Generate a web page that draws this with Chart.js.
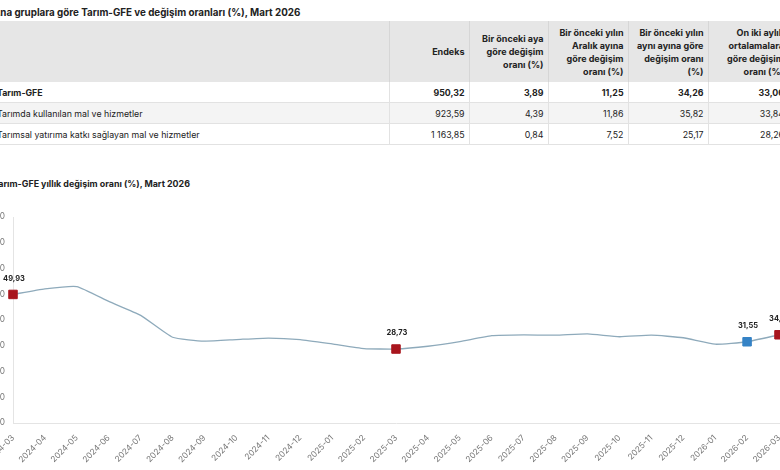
<!DOCTYPE html>
<html>
<head>
<meta charset="utf-8">
<script src="https://cdn.jsdelivr.net/npm/chart.js@4"></script>
<style>
  html, body { margin: 0; padding: 0; background: #fff; }
  body { width: 780px; height: 470px; overflow: hidden; position: relative; font-family: Inter, "Noto Sans", sans-serif; color: #222; }
  .wrap { position: absolute; left: -8px; top: 0; width: 830px; height: 470px; }
  .title { position: absolute; left: 1px; font-size: 9.8px; font-weight: 700; margin: 0; white-space: nowrap; }
  #t1 { top: 7px; }
  #t2 { top: 178px; left: 1px; font-size: 8.9px; }
  table { position: absolute; top: 21px; left: 0; border-collapse: collapse; table-layout: fixed; font-size: 8.8px; }
  th { background: #e6e6e6; font-weight: 700; font-size: 9px; text-align: right; vertical-align: middle; height: 61px; padding: 0 4px 0 4px; line-height: 13px; border-left: 1px solid #d6d6d6; }
  th:first-child { border-left: none; }
  td { text-align: right; height: 20px; padding: 0 4px; border-left: 1px solid #e2e2e2; border-bottom: 1px solid #e2e2e2; }
  td:first-child { text-align: left; padding-left: 5px; border-left: none; }
  tr.bold td { font-weight: 700; }
  tr.alt td { background: #f4f4f4; }
  .chartbox { position: absolute; left: -9px; top: 200px; width: 816px; height: 270px; }
</style>
</head>
<body>
<div class="wrap">
  <div class="title" id="t1">Ana gruplara göre Tarım-GFE ve değişim oranları (%), Mart 2026</div>
  <table id="tbl"></table>
  <div class="title" id="t2">Tarım-GFE yıllık değişim oranı (%), Mart 2026</div>
  <div class="chartbox"><canvas id="chart"></canvas></div>
</div>
<script>
// table data
const tableHeaders = ["", "Endeks", "Bir önceki aya<br>göre değişim<br>oranı (%)", "Bir önceki yılın<br>Aralık ayına<br>göre değişim<br>oranı (%)", "Bir önceki yılın<br>aynı ayına göre<br>değişim oranı<br>(%)", "On iki aylık<br>ortalamalara<br>göre değişim<br>oranı (%)"];
const rowLabels = ["Tarım-GFE", "Tarımda kullanılan mal ve hizmetler", "Tarımsal yatırıma katkı sağlayan mal ve hizmetler"];
const endeks = ["950,32", "923,59", "1 163,85"];
const monthly = ["3,89", "4,39", "0,84"];
const sinceDec = ["11,25", "11,86", "7,52"];
const yearly = ["34,26", "35,82", "25,17"];
const avg12 = ["33,06", "33,84", "28,26"];

// chart data
const months = ["2024-03", "2024-04", "2024-05", "2024-06", "2024-07", "2024-08", "2024-09", "2024-10", "2024-11", "2024-12",
  "2025-01", "2025-02", "2025-03", "2025-04", "2025-05", "2025-06", "2025-07", "2025-08", "2025-09", "2025-10", "2025-11", "2025-12",
  "2026-01", "2026-02", "2026-03"];
const rates = [49.93, 52.1, 53.0, 47.2, 41.8, 33.3, 31.8, 32.4, 33.0, 32.4,
  30.7, 28.9, 28.73, 29.8, 31.6, 33.9, 34.2, 34.1, 34.6, 33.5, 34.1, 33.1,
  30.6, 31.55, 34.26];
const redMonths = ["2024-03", "2025-03", "2026-03"];
const blueMonths = ["2026-02"];

// build the table
const tbl = document.getElementById("tbl");
const widths = [397, 80, 79, 80, 80, 80];
let html = "<colgroup>" + widths.map(w => `<col style="width:${w}px">`).join("") + "</colgroup>";
html += "<tr>" + tableHeaders.map(h => `<th>${h}</th>`).join("") + "</tr>";
for (let i = 0; i < rowLabels.length; i++) {
  const cls = i === 0 ? "bold" : (i === 1 ? "alt" : "");
  html += `<tr class="${cls}"><td>${rowLabels[i]}</td><td>${endeks[i]}</td><td>${monthly[i]}</td><td>${sinceDec[i]}</td><td>${yearly[i]}</td><td>${avg12[i]}</td></tr>`;
}
tbl.innerHTML = html;

const RED = "#a8151d";
const BLUE = "#3583c6";
const LINE = "#8eaabb";

const markLabels = {
  id: "markLabels",
  afterDatasetsDraw(chart) {
    const c = chart.ctx;
    const meta = chart.getDatasetMeta(0);
    c.save();
    c.font = "700 7.5px Inter";
    c.fillStyle = "#222";
    c.textAlign = "center";
    c.textBaseline = "middle";
    months.forEach((m, i) => {
      if (redMonths.includes(m) || blueMonths.includes(m)) {
        const p = meta.data[i];
        c.fillText(rates[i].toFixed(2).replace(".", ","), p.x + 1, p.y - 16);
      }
    });
    c.restore();
  }
};

function colorFor(i) {
  if (redMonths.includes(months[i])) return RED;
  if (blueMonths.includes(months[i])) return BLUE;
  return LINE;
}

new Chart(document.getElementById("chart"), {
  type: "line",
  data: {
    labels: months,
    datasets: [{
      data: rates,
      borderColor: LINE,
      borderWidth: 1.3,
      tension: 0.15,
      pointStyle: "rect",
      pointRadius: (ctx) => (colorFor(ctx.dataIndex) === LINE ? 0 : 6),
      pointHoverRadius: (ctx) => (colorFor(ctx.dataIndex) === LINE ? 0 : 6),
      pointBackgroundColor: (ctx) => colorFor(ctx.dataIndex),
      pointBorderColor: (ctx) => colorFor(ctx.dataIndex),
      pointBorderWidth: 1,
    }],
  },
  options: {
    responsive: true,
    maintainAspectRatio: false,
    animation: false,
    layout: { padding: { top: 17, right: 20, left: 0, bottom: 0 } },
    plugins: { legend: { display: false }, tooltip: { enabled: false } },
    scales: {
      x: {
        offset: false,
        grid: { display: false },
        border: { display: true, color: "#e4e4e4" },
        ticks: { color: "#777", font: { size: 8.3, family: "Inter" }, minRotation: 45, maxRotation: 45, autoSkip: false, padding: 2 },
        afterFit: (scale) => { scale.height = 47; },
      },
      y: {
        min: 0,
        max: 80,
        grid: { display: false, drawTicks: false },
        border: { display: true, color: "#e4e4e4" },
        ticks: { stepSize: 10, color: "#777", font: { size: 8.3, family: "Inter" }, padding: 8 },
        afterFit: (scale) => { scale.width = 30; },
      },
    },
  },
  plugins: [markLabels],
});
</script>
</body>
</html>
